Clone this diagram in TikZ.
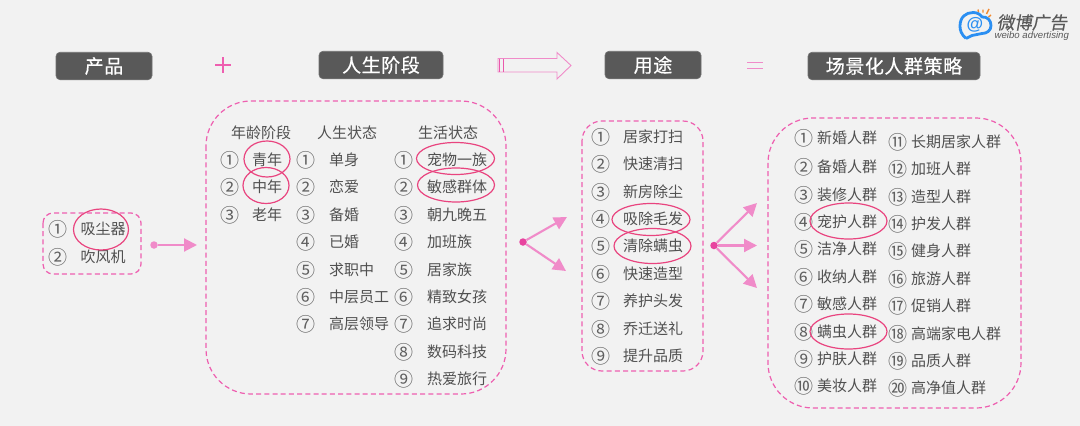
\documentclass[tikz,border=0pt]{standalone}
\usepackage{fontspec}
\setmainfont{Noto Sans CJK SC}
\newfontfamily\logoslant[FakeSlant=0.18,FakeBold=0.2]{Noto Sans CJK SC}
\newfontfamily\headfont[FakeBold=0.5,LetterSpace=3]{Noto Sans CJK SC}
\newfontfamily\logolatin{Liberation Sans}
\usetikzlibrary{shapes.geometric,arrows.meta}
\definecolor{bgc}{HTML}{F2F2F2}
\definecolor{headc}{HTML}{595959}
\definecolor{textc}{HTML}{505050}
\definecolor{numc}{HTML}{606060}
\definecolor{dashc}{HTML}{EE5FB0}
\definecolor{ringc}{HTML}{E9447F}
\definecolor{flowc}{HTML}{F08BC9}
\definecolor{dotc}{HTML}{E8439F}
\definecolor{blogo}{HTML}{2B8FF2}
\definecolor{ologo}{HTML}{F28A30}
\tikzset{
  x=1pt,y=-1pt,
  headbox/.style={fill=headc,draw=headc!85!white,line width=.6pt,rounded corners=4pt,minimum height=27.5pt,inner sep=0,text=white,font=\headfont\fontsize{19}{19}\selectfont},
  dashbox/.style={draw=dashc,line width=1.2pt,dash pattern=on 5pt off 3.2pt},
  item/.style={inner sep=0,text=textc,anchor=west,text height=12pt,text depth=2pt,font=\fontsize{15}{15}\selectfont},
  citem/.style={item,anchor=center},
  num/.style={inner sep=0,text=numc,anchor=center,font=\fontsize{19}{19}\selectfont},
  ring/.style={ellipse,draw=ringc,line width=1.2pt,inner sep=0,minimum width=#1},
  flowline/.style={draw=flowc,line width=2.1pt,-{Triangle[width=13pt,length=13pt]}},
  flowdot/.style={circle,fill=#1,inner sep=0,minimum size=7.5pt},
  symb/.style={draw=dashc,line width=1.1pt},
}
\begin{document}
\begin{tikzpicture}
\useasboundingbox[fill=bgc] (0,0) rectangle (1080,426);
% headers
\node[headbox,minimum width=96pt] (h1) at (104,66) {产品};
\node[headbox,minimum width=124pt] (h2) at (381,65) {人生阶段};
\node[headbox,minimum width=96pt] (h3) at (653,65) {用途};
\node[headbox,minimum width=172pt] (h4) at (894,66) {场景化人群策略};
% symbols
\draw[symb] (215,65) -- (231,65) (223,57) -- (223,73);
\draw[symb,draw=flowc,line width=1.3pt] (747,62.5) -- (763,62.5) (747,68.5) -- (763,68.5);
\draw[flowc,line width=.9pt] (498,58.5) -- (557,58.5) -- (557,52.5) -- (571,65.5) -- (557,79) -- (557,72) -- (498,72) -- cycle;
\draw[dotc!70!flowc,line width=1.5pt] (499.5,58.5) -- (499.5,72);
\draw[dotc!70!flowc,line width=.9pt] (503,58.5) -- (503,72);
% boxes
\draw[dashbox,rounded corners=10pt] (43,213) rectangle (141,274);
\draw[dashbox,rounded corners=45pt] (206,101) rectangle (506,394);
\draw[dashbox,rounded corners=20pt] (582,121) rectangle (703,371);
\draw[dashbox,rounded corners=45pt] (768,118) rectangle (1021,408);
% product
\foreach \i/\n/\t/\y in {a/①/吸尘器/229,b/②/吹风机/257}{
  \node[num] (p\i n) at (58,\y) {\n};
  \node[citem] (p\i t) at (103,\y) {\t};
}
% life stage headers
\node[citem] (c1) at (261,133) {年龄阶段};
\node[citem] (c2) at (347,133) {人生状态};
\node[citem] (c3) at (448,133) {生活状态};
\foreach \i/\n/\t/\y in {a/①/青年/160,b/②/中年/187.5,c/③/老年/215}{
  \node[num] (q\i n) at (230,\y) {\n};
  \node[citem] (q\i t) at (267,\y) {\t};
}
\foreach \i/\n/\t/\y in {a/①/单身/160,b/②/恋爱/187.5,c/③/备婚/215,d/④/已婚/242,e/⑤/求职中/270,f/⑥/中层员工/297,g/⑦/高层领导/324}{
  \node[num] (r\i n) at (306,\y) {\n};
  \node[item] (r\i t) at (329,\y) {\t};
}
\foreach \i/\n/\t/\y in {a/①/宠物一族/160,b/②/敏感群体/187.5,c/③/朝九晚五/215,d/④/加班族/242,e/⑤/居家族/270,f/⑥/精致女孩/297,g/⑦/追求时尚/324,h/⑧/数码科技/352,i/⑨/热爱旅行/379}{
  \node[num] (s\i n) at (404,\y) {\n};
  \node[item] (s\i t) at (427,\y) {\t};
}
% uses
\foreach \i/\n/\t/\y in {a/①/居家打扫/137,b/②/快速清扫/164.5,c/③/新房除尘/192,d/④/吸除毛发/219,e/⑤/清除螨虫/246.5,f/⑥/快速造型/274,g/⑦/养护头发/301,h/⑧/乔迁送礼/329,i/⑨/提升品质/356}{
  \node[num] (u\i n) at (601,\y) {\n};
  \node[item] (u\i t) at (623,\y) {\t};
}
% crowds
\foreach \i/\n/\t/\y in {a/①/新婚人群/138,b/②/备婚人群/167,c/③/装修人群/195,d/④/宠护人群/222,e/⑤/洁净人群/249,f/⑥/收纳人群/277,g/⑦/敏感人群/304,h/⑧/螨虫人群/332,i/⑨/护肤人群/359,j/⑩/美妆人群/386}{
  \node[num] (v\i n) at (804,\y) {\n};
  \node[item] (v\i t) at (817,\y) {\t};
}
\foreach \i/\n/\t/\y in {a/⑪/长期居家人群/142,b/⑫/加班人群/169,c/⑬/造型人群/197,d/⑭/护发人群/224,e/⑮/健身人群/251,f/⑯/旅游人群/279,g/⑰/促销人群/306,h/⑱/高端家电人群/334,i/⑲/品质人群/361,j/⑳/高净值人群/388}{
  \node[num] (w\i n) at (898,\y) {\n};
  \node[item] (w\i t) at (911,\y) {\t};
}
% rings
\node[ring=55pt,minimum height=41pt] (e1) at (101,229.5) {};
\node[ring=46pt,minimum height=36pt] (e2) at (267,159) {};
\node[ring=46pt,minimum height=36pt] (e3) at (266,185.5) {};
\node[ring=78pt,minimum height=32pt] (e4) at (455.5,158.5) {};
\node[ring=77pt,minimum height=34pt] (e5) at (456,185) {};
\node[ring=78pt,minimum height=32pt] (e6) at (651,219.5) {};
\node[ring=77pt,minimum height=35pt] (e7) at (652.5,246) {};
\node[ring=77pt,minimum height=36pt] (e8) at (848.5,221) {};
\node[ring=77pt,minimum height=35pt] (e9) at (848.5,331.5) {};
% connectors
\node[flowdot=flowc] (d1) at (154,245) {};
\coordinate (d1e) at (197,245);
\draw[flowline] (d1) -- (d1e);
\node[flowdot=dotc] (d2) at (523,242) {};
\coordinate (d2a) at (567,217);
\coordinate (d2b) at (566,271);
\draw[flowline] (d2) -- (d2a);
\draw[flowline] (d2) -- (d2b);
\node[flowdot=dotc] (d3) at (714,245.5) {};
\coordinate (d3a) at (757,203);
\coordinate (d3b) at (757,245.5);
\coordinate (d3c) at (757,288);
\draw[flowline] (d3) -- (d3a);
\draw[flowline] (d3) -- (d3b);
\draw[flowline] (d3) -- (d3c);
% logo
\draw[blogo,line width=2.8pt,line join=round] (966,38.5) .. controls (961,34) and (960,30) .. (960,26) .. controls (960,17) and (966,12.5) .. (973,12.5) .. controls (977,12.5) and (980,14) .. (982,17) .. controls (987,16.5) and (991,20) .. (991,25.5) .. controls (991,30.5) and (987,33.5) .. (982,33.5) -- (972,35.5) -- (966,38.5);
\node[inner sep=0,text=blogo,font=\logolatin\bfseries\fontsize{17}{17}\selectfont] (lg) at (975,25) {@};
\draw[ologo,line width=1.4pt] (978,9.5) -- (978.5,12) (983,9.5) -- (983,12.5) (989,9) -- (986.5,14) (991,15) -- (988.5,17);
\node[inner sep=0,text=headc,anchor=west,font=\logoslant\fontsize{17.6}{18}\selectfont] (l1) at (996.5,22.5) {微博广告};
\node[inner sep=0,text=headc,anchor=west,font=\logolatin\itshape\fontsize{9.6}{10}\selectfont] (l2) at (994.5,36) {weibo advertising};
\end{tikzpicture}
\end{document}
